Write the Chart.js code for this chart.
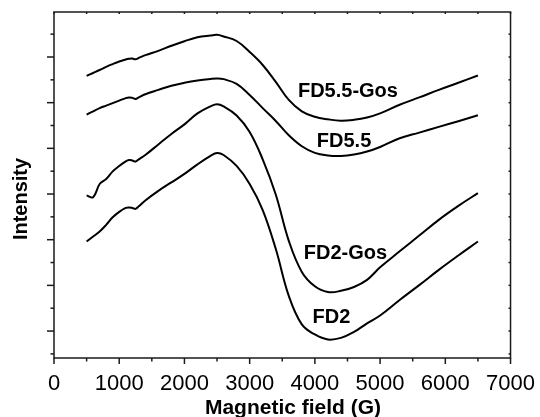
<!DOCTYPE html>
<html lang="en">
<head>
<meta charset="UTF-8">
<title>ESR spectra</title>
<script src="https://cdn.jsdelivr.net/npm/chart.js"></script>
<style>
  body { margin: 0; background: #fff; }
</style>
</head>
<body>
<canvas id="esrChart" width="540" height="417"></canvas>
<script>
// magnetic field (G) where the curves were read
var field = [500, 600, 700, 800, 900, 1000, 1100, 1150, 1200, 1250, 1300, 1400, 1600, 1800,
             2000, 2200, 2400, 2500, 2600, 2800, 3000, 3200, 3400, 3600, 3800, 4000, 4200,
             4400, 4600, 4800, 5000, 5300, 5600, 5900, 6200, 6500];

// intensity (arb. units, offset stacked)
var fd55gos = [12.17, 12.30, 12.43, 12.57, 12.69, 12.80, 12.89, 12.92, 12.93, 12.90, 12.96, 13.08,
               13.27, 13.49, 13.69, 13.86, 13.94, 13.97, 13.90, 13.70, 13.22, 12.65, 11.91, 11.12,
               10.62, 10.38, 10.27, 10.21, 10.25, 10.35, 10.53, 10.91, 11.23, 11.56, 11.87, 12.19];
var fd55 = [10.48, 10.62, 10.76, 10.87, 10.98, 11.09, 11.20, 11.23, 11.21, 11.16, 11.23, 11.37,
            11.56, 11.74, 11.87, 11.97, 12.04, 12.06, 12.03, 11.82, 11.34, 10.76, 10.20, 9.57,
            9.09, 8.80, 8.69, 8.67, 8.73, 8.86, 9.06, 9.44, 9.69, 9.94, 10.19, 10.45];
var fd2gos = [6.94, 6.86, 7.44, 7.66, 7.99, 8.23, 8.43, 8.49, 8.47, 8.42, 8.52, 8.71,
              9.17, 9.63, 10.05, 10.53, 10.84, 10.93, 10.84, 10.44, 9.72, 8.52, 6.98, 4.95,
              3.59, 2.96, 2.71, 2.76, 2.93, 3.24, 3.79, 4.49, 5.18, 5.87, 6.48, 7.04];
var fd2 = [4.92, 5.14, 5.36, 5.65, 5.98, 6.22, 6.39, 6.41, 6.39, 6.35, 6.46, 6.72,
           7.14, 7.51, 7.88, 8.30, 8.67, 8.80, 8.71, 8.23, 7.44, 6.30, 4.60, 2.54,
           1.29, 0.85, 0.63, 0.70, 0.96, 1.34, 1.68, 2.36, 3.01, 3.68, 4.31, 4.92];

var xTickLabels = ['0', '1000', '2000', '3000', '4000', '5000', '6000', '7000'];

// series names written next to the curves
var seriesNames = ['FD5.5-Gos', 'FD5.5', 'FD2-Gos', 'FD2'];

function toPoints(ys) {
    return field.map(function (x, i) { return { x: x, y: ys[i] }; });
}

function curve(label, ys) {
    return {
        label: label,
        data: toPoints(ys),
        borderColor: '#000',
        borderWidth: 2,
        pointRadius: 0,
        fill: false,
        tension: 0.4
    };
}

// frame, ticks and text
var framePlugin = {
    id: 'frame',
    afterDraw: function (chart) {
        var ctx = chart.ctx, a = chart.chartArea;
        var xs = chart.scales.x, ys = chart.scales.y;
        function seg(x1, y1, x2, y2) {
            ctx.beginPath(); ctx.moveTo(x1, y1); ctx.lineTo(x2, y2); ctx.stroke();
        }
        ctx.save();
        ctx.strokeStyle = '#1a1a1a';
        ctx.lineWidth = 1.5;
        ctx.strokeRect(a.left, a.top, a.right - a.left, a.bottom - a.top);
        for (var v = 0; v <= 7000; v += 500) {
            var px = xs.getPixelForValue(v);
            seg(px, a.bottom, px, a.bottom + (v % 1000 === 0 ? 6 : 3.5));
            seg(px, a.top, px, a.top + 2);
        }
        for (var t = 0; t <= 14; t++) {
            var py = ys.getPixelForValue(t);
            seg(a.left - (t % 2 === 1 ? 7 : 3.5), py, a.left, py);
            seg(a.right - 2, py, a.right, py);
        }

        ctx.fillStyle = '#000';
        ctx.font = 'bold 20px "Liberation Sans", Arial, sans-serif';
        ctx.textAlign = 'left';
        ctx.textBaseline = 'alphabetic';
        var spots = [[3740, 11.25], [4030, 9.06], [3830, 4.15], [3965, 1.34]];
        seriesNames.forEach(function (name, i) {
            ctx.fillText(name, xs.getPixelForValue(spots[i][0]), ys.getPixelForValue(spots[i][1]));
        });

        ctx.textAlign = 'center';
        ctx.font = 'bold 21px "Liberation Sans", Arial, sans-serif';
        ctx.fillText('Magnetic field (G)', 293, 414);
        ctx.font = 'bold 20px "Liberation Sans", Arial, sans-serif';
        ctx.translate(26.5, 199);
        ctx.rotate(-Math.PI / 2);
        ctx.fillText('Intensity', 0, 0);
        ctx.restore();
    }
};

new Chart(document.getElementById('esrChart').getContext('2d'), {
    type: 'line',
    data: {
        datasets: [
            curve(seriesNames[0], fd55gos),
            curve(seriesNames[1], fd55),
            curve(seriesNames[2], fd2gos),
            curve(seriesNames[3], fd2)
        ]
    },
    options: {
        responsive: false,
        devicePixelRatio: 1,
        animation: false,
        layout: { padding: { left: 0, right: 25, top: 12, bottom: 0 } },
        plugins: { legend: { display: false }, tooltip: { enabled: false } },
        scales: {
            x: {
                type: 'linear',
                min: 0,
                max: 7000,
                grid: { display: false },
                border: { display: false },
                afterFit: function (scale) { scale.height = 59; },
                ticks: {
                    stepSize: 1000,
                    autoSkip: false,
                    maxRotation: 0,
                    padding: 5,
                    color: '#000',
                    font: { family: '"Liberation Sans", Arial, sans-serif', size: 22 },
                    callback: function (value) { return xTickLabels[value / 1000]; }
                }
            },
            y: {
                min: -0.18,
                max: 14.97,
                grid: { display: false },
                border: { display: false },
                ticks: { display: false },
                afterFit: function (scale) { scale.width = 54; }
            }
        }
    },
    plugins: [framePlugin]
});
</script>
</body>
</html>
